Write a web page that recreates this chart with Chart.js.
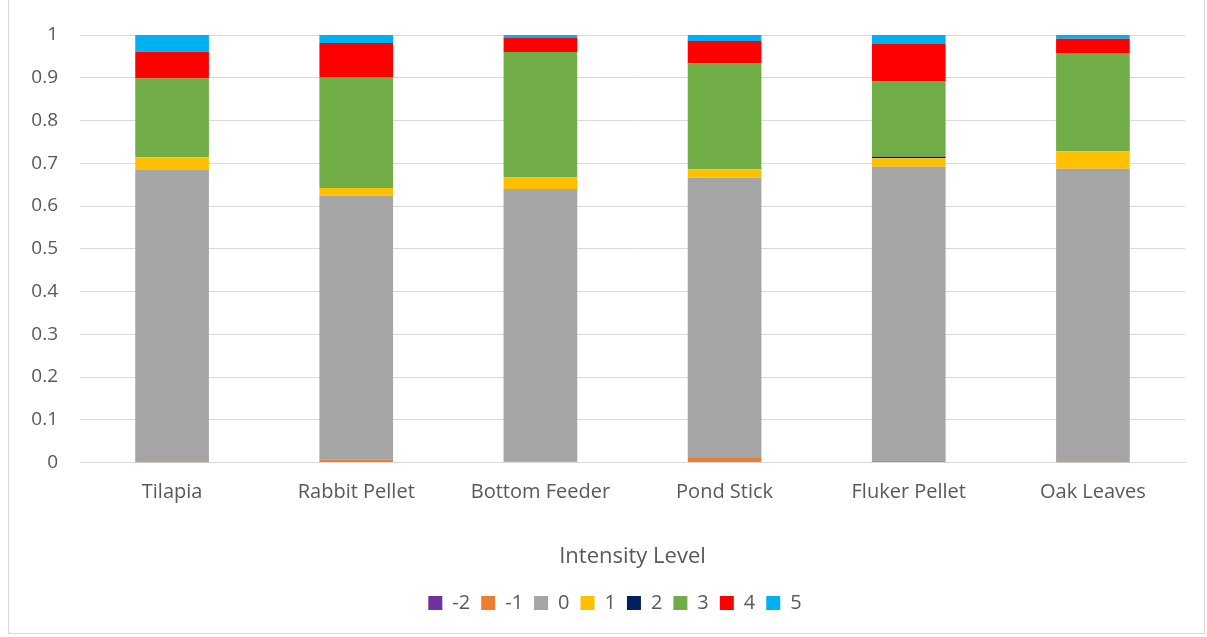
<!DOCTYPE html>
<html>
<head>
<meta charset="utf-8">
<script src="https://cdn.jsdelivr.net/npm/chart.js@4.4.1/dist/chart.umd.min.js"></script>
<style>
    body { margin: 0; background: #fff; }
    #box { position: absolute; left: 8px; top: -2px; width: 1197px; height: 636px; border: 1px solid #d9d9d9; box-sizing: border-box; }
    canvas { display: block; }
</style>
</head>
<body>
<div id="box"><canvas id="grafico" width="1195" height="634"></canvas></div>
<script>
// dados
const categorias = ['Tilapia', 'Rabbit Pellet', 'Bottom Feeder', 'Pond Stick', 'Fluker Pellet', 'Oak Leaves']
const niveis = ['-2', '-1', '0', '1', '2', '3', '4', '5']

const nivelMenos2 = [0, 0, 0, 0, 0, 0]
const nivelMenos1 = [0.001, 0.007, 0.002, 0.011, 0.004, 0.001]
const nivel0 = [0.683, 0.617, 0.638, 0.655, 0.688, 0.686]
const nivel1 = [0.030, 0.018, 0.027, 0.020, 0.020, 0.041]
const nivel2 = [0, 0, 0, 0, 0.003, 0]
const nivel3 = [0.184, 0.260, 0.293, 0.248, 0.177, 0.230]
const nivel4 = [0.063, 0.079, 0.034, 0.052, 0.088, 0.033]
const nivel5 = [0.039, 0.019, 0.006, 0.014, 0.020, 0.009]

const ticksY = [0, 0.1, 0.2, 0.3, 0.4, 0.5, 0.6, 0.7, 0.8, 0.9, 1]

const valores = [nivelMenos2, nivelMenos1, nivel0, nivel1, nivel2, nivel3, nivel4, nivel5]
const cores = ['#7030a0', '#ed7d31', '#a5a5a5', '#ffc000', '#002060', '#70ad47', '#ff0000', '#00b0f0']

const fonte = "'Open Sans', 'Liberation Sans', sans-serif"

// empurra a legenda um pouco para a direita, como no original
const moverLegenda = {
    id: 'moverLegenda',
    afterLayout: (chart) => {
        chart.legend.left += 18
        chart.legend.right += 18
    }
}

const ctx = document.getElementById('grafico')

let grafico = new Chart(ctx, {
    type: 'bar',
    data: {
        labels: categorias,
        datasets: niveis.map((n, i) => ({
            label: n,
            data: valores[i],
            backgroundColor: cores[i],
            borderWidth: 0,
            barPercentage: 0.4,
            categoryPercentage: 1
        }))
    },
    plugins: [moverLegenda],
    options: {
        responsive: false,
        animation: false,
        layout: { padding: { left: 0, right: 19, top: 36, bottom: 10 } },
        plugins: {
            legend: {
                position: 'bottom',
                labels: {
                    boxWidth: 14,
                    boxHeight: 14,
                    padding: 11,
                    color: '#595959',
                    font: { family: fonte, size: 20 }
                }
            },
            tooltip: { enabled: false }
        },
        scales: {
            x: {
                stacked: true,
                grid: { display: false },
                border: { color: '#d9d9d9' },
                ticks: { color: '#595959', font: { family: fonte, size: 20 }, padding: 10 },
                title: {
                    display: true,
                    text: 'Intensity Level',
                    color: '#595959',
                    font: { family: fonte, size: 22 },
                    padding: { top: 29, bottom: 12 }
                }
            },
            y: {
                stacked: true,
                min: 0,
                max: 1,
                afterFit: (scale) => { scale.width = 71 },
                afterBuildTicks: (scale) => { scale.ticks = ticksY.map(v => ({ value: v })) },
                grid: { color: '#d9d9d9', drawTicks: false },
                border: { display: false },
                ticks: {
                    color: '#595959',
                    font: { family: fonte, size: 19 },
                    padding: 22,
                    callback: (v) => String(Math.round(v * 10) / 10)
                }
            }
        }
    }
})
</script>
</body>
</html>
